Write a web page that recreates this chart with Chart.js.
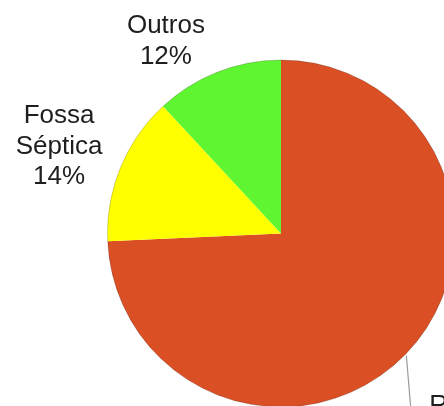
<!DOCTYPE html>
<html>
<head>
<meta charset="utf-8">
<script src="https://cdn.jsdelivr.net/npm/chart.js@4.4.1/dist/chart.umd.min.js"></script>
<style>
  html, body { margin: 0; padding: 0; background: #fff; overflow: hidden; width: 444px; height: 406px; }
  #wrap { position: absolute; left: 0; top: 0; }
</style>
</head>
<body>
<div id="wrap"><canvas id="pieChart" width="600" height="520"></canvas></div>
<script>
// Data
const categories = ['Rede Geral', 'Fossa Séptica', 'Outros'];
const shares = [74.3, 13.8, 11.9];
const sliceColors = ['#DA4F24', '#FFFF00', '#5FF531'];
const nameLines = [['Rede Geral'], ['Fossa', 'Séptica'], ['Outros']];

// label placement: radius factor, angle nudge (rad)
const labelPlace = [
    { r: 1.0, da: 0 },
    { r: 1.383, da: 0 },
    { r: 1.31, da: -0.157 }
];

const outsideLabels = {
    id: 'outsideLabels',
    afterDatasetsDraw(chart) {
        const ctx = chart.ctx;
        const arcs = chart.getDatasetMeta(0).data;
        const total = shares.reduce((a, b) => a + b, 0);
        ctx.save();
        // faint outline of the pie
        const a0 = arcs[0];
        ctx.beginPath();
        ctx.arc(a0.x, a0.y, a0.outerRadius, 0, Math.PI * 2);
        ctx.strokeStyle = 'rgba(0,0,0,0.18)';
        ctx.lineWidth = 1;
        ctx.stroke();

        ctx.font = '26px "Liberation Sans", Arial, sans-serif';
        ctx.fillStyle = '#1e1e1e';
        const lh = 30.5;
        arcs.forEach((arc, i) => {
            const mid = (arc.startAngle + arc.endAngle) / 2 + labelPlace[i].da;
            const lines = nameLines[i].concat([Math.round(shares[i] / total * 100) + '%']);
            if (i === 0) {
                // leader line + text to the lower right
                const sx = arc.x + Math.cos(mid) * arc.outerRadius;
                const sy = arc.y + Math.sin(mid) * arc.outerRadius + 2;
                ctx.beginPath();
                ctx.moveTo(sx, sy);
                ctx.lineTo(sx + 5, sy + 60);
                ctx.strokeStyle = '#9a9a9a';
                ctx.lineWidth = 1.2;
                ctx.stroke();
                ctx.textAlign = 'left';
                ctx.textBaseline = 'alphabetic';
                lines.forEach((t, k) => ctx.fillText(t, sx + 23, sy + 58 + k * lh));
                return;
            }
            const rr = arc.outerRadius * labelPlace[i].r;
            const cx = arc.x + Math.cos(mid) * rr;
            const cy = arc.y + Math.sin(mid) * rr;
            ctx.textAlign = 'center';
            ctx.textBaseline = 'alphabetic';
            const top = cy - (lines.length * lh) / 2;
            lines.forEach((t, k) => ctx.fillText(t, cx, top + (k + 1) * lh - 4));
        });
        ctx.restore();
    }
};

const pieCtx = document.getElementById('pieChart').getContext('2d');
new Chart(pieCtx, {
    type: 'pie',
    data: {
        labels: categories,
        datasets: [{
            data: shares,
            backgroundColor: sliceColors,
            borderWidth: 0
        }]
    },
    options: {
        responsive: false,
        animation: false,
        layout: { padding: { left: 107.5, top: 60, right: 145.5, bottom: 113 } },
        plugins: {
            legend: { display: false },
            tooltip: { enabled: false }
        }
    },
    plugins: [outsideLabels]
});
</script>
</body>
</html>
